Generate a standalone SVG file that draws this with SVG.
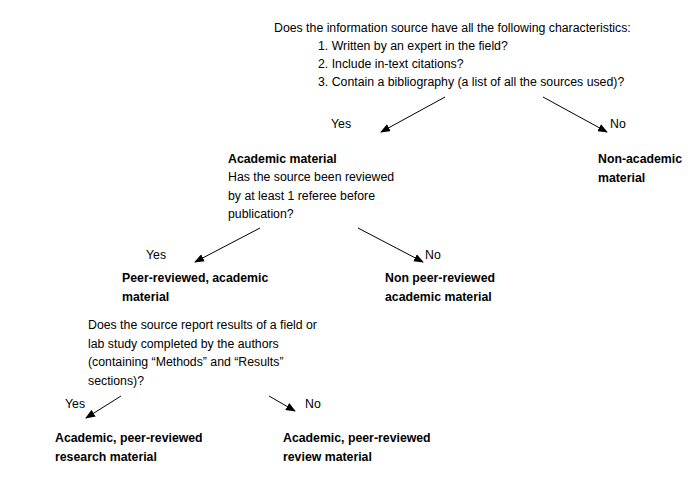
<svg xmlns="http://www.w3.org/2000/svg" width="700" height="480" viewBox="0 0 700 480">
<style>
text{font-family:"Liberation Sans",Arial,sans-serif;font-size:12.3px;fill:#000}
.b{font-weight:bold}
.c{stroke:#000;stroke-width:1;fill:none;marker-end:url(#a)}
</style>
<defs><marker id="a" markerWidth="10" markerHeight="8" refX="9" refY="4" orient="auto" markerUnits="userSpaceOnUse"><path d="M0,0L10,4L0,8z" fill="#000"/></marker></defs>
<rect width="700" height="480" fill="#fff"/>
<g id="q1"><text x="274" y="32">Does the information source have all the following characteristics:</text>
<text x="318" y="50">1.  Written by an expert in the field?</text>
<text x="318" y="68">2.  Include in-text citations?</text>
<text x="318" y="86">3.  Contain a bibliography (a list of all the sources used)?</text></g>
<g id="q2"><text x="228" y="163" class="b">Academic material</text>
<text x="228" y="181">Has the source been reviewed</text>
<text x="228" y="200">by at least 1 referee before</text>
<text x="228" y="218">publication?</text></g>
<g id="nonacad"><text x="598" y="163" class="b">Non-academic</text><text x="598" y="182" class="b">material</text></g>
<g id="q3"><text x="122" y="282" class="b">Peer-reviewed, academic</text><text x="122" y="301" class="b">material</text>
<text x="88" y="329">Does the source report results of a field or</text>
<text x="88" y="348">lab study completed by the authors</text>
<text x="88" y="366">(containing “Methods” and “Results”</text>
<text x="88" y="385">sections)?</text></g>
<g id="nonpeer"><text x="385" y="282" class="b">Non peer-reviewed</text><text x="385" y="301" class="b">academic material</text></g>
<g id="research"><text x="55" y="442" class="b">Academic, peer-reviewed</text><text x="55" y="461" class="b">research material</text></g>
<g id="review"><text x="283" y="442" class="b">Academic, peer-reviewed</text><text x="283" y="461" class="b">review material</text></g>
<g id="connectors">
<path class="c" d="M445,97L381,132"/><path class="c" d="M543,97L607,132"/>
<path class="c" d="M260,228L195,262"/><path class="c" d="M358,228L423,262"/>
<path class="c" d="M121,396L86,418"/><path class="c" d="M269,396L295,411"/>
<text x="331" y="128">Yes</text><text x="610" y="128">No</text>
<text x="146" y="259">Yes</text><text x="425" y="259">No</text>
<text x="65" y="408">Yes</text><text x="305" y="408">No</text>
</g>
</svg>
